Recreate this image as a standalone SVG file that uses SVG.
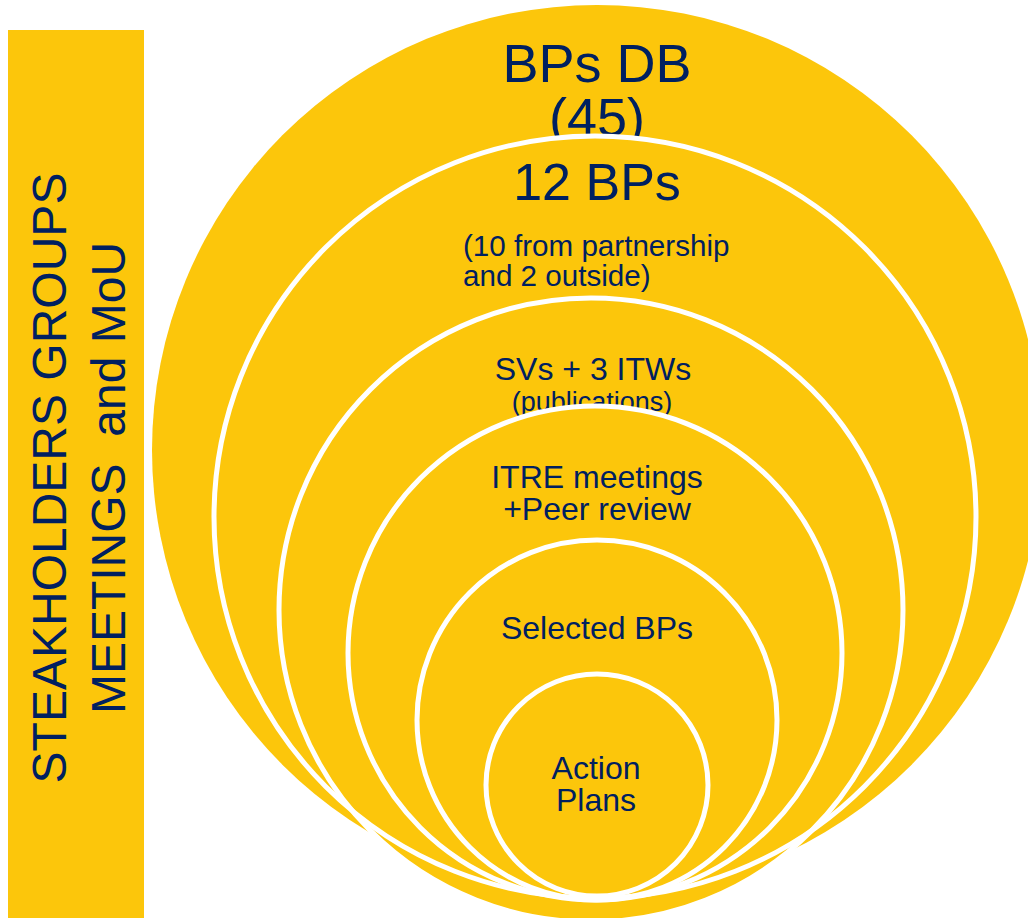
<svg xmlns="http://www.w3.org/2000/svg" width="1028" height="918" viewBox="0 0 1028 918">
<style>
.fill{fill:#FCC60B;stroke:none}
.ring{fill:none;stroke:#FFFFFF;stroke-width:5}
text{font-family:"Liberation Sans",Arial,sans-serif;fill:#002060;text-anchor:middle}
.t54{font-size:54px}
.t52{font-size:52px}
.t32{font-size:32px}
.t29{font-size:29.6px;text-anchor:start}
.t27{font-size:27px}
.side{font-size:48px;white-space:pre}
</style>
<rect width="1028" height="918" fill="#FFFFFF"/>
<g id="stakeholders">
<rect class="fill" x="8" y="30" width="136" height="888"/>
<text class="side" transform="translate(66,478) rotate(-90)">STEAKHOLDERS GROUPS</text>
<text class="side" transform="translate(125,478) rotate(-90)" xml:space="preserve">MEETINGS  and MoU</text>
</g>
<g id="bps-db">
<circle class="fill" cx="597" cy="450" r="445"/>
<text class="t54" x="597" y="82">BPs DB</text>
<text class="t54" x="597" y="136">(45)</text>
</g>
<g id="twelve-bps">
<circle class="fill" cx="595" cy="517" r="381"/>
<text class="t52" x="597" y="200">12 BPs</text>
<text class="t29" x="463" y="256">(10 from partnership</text>
<text class="t29" x="463" y="286">and 2 outside)</text>
</g>
<g id="svs-itws">
<circle class="fill" cx="591" cy="610" r="312"/>
<text class="t32" x="593" y="380">SVs + 3 ITWs</text>
<text class="t27" x="592" y="411">(publications)</text>
</g>
<g id="itre">
<circle class="fill" cx="595" cy="653" r="247"/>
<text class="t32" x="597" y="488">ITRE meetings</text>
<text class="t32" x="597" y="520">+Peer review</text>
</g>
<g id="selected">
<circle class="fill" cx="597" cy="720" r="180"/>
<text class="t32" x="597" y="639">Selected BPs</text>
</g>
<g id="action-plans">
<circle class="fill" cx="597" cy="785" r="111"/>
<text class="t32" x="596" y="779">Action</text>
<text class="t32" x="596" y="811">Plans</text>
</g>
<g id="rings">
<circle class="ring" cx="595" cy="517" r="381"/>
<circle class="ring" cx="591" cy="610" r="312"/>
<circle class="ring" cx="595" cy="653" r="247"/>
<circle class="ring" cx="597" cy="720" r="180"/>
<circle class="ring" cx="597" cy="785" r="111"/>
</g>
</svg>
